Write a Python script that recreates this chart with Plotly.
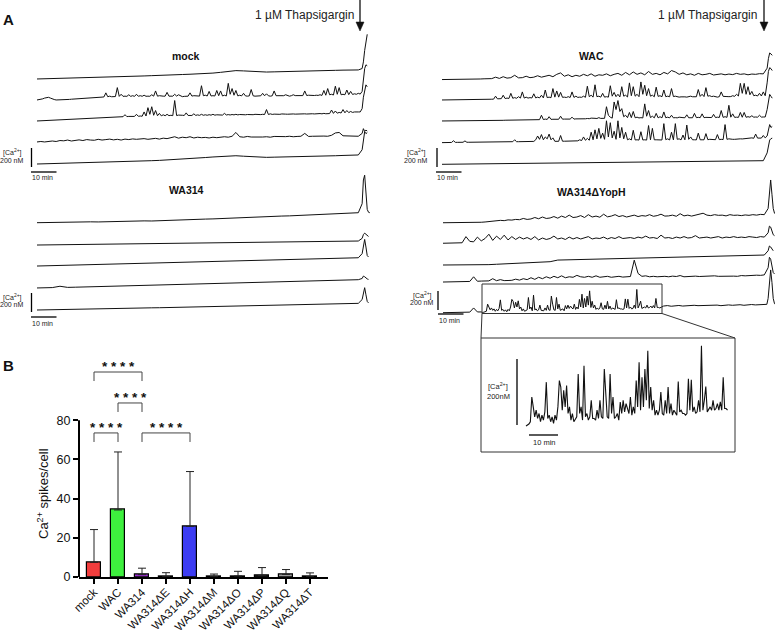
import numpy as np
import plotly.graph_objects as go

W, H = 775, 633
FONT = "Liberation Sans, Arial, sans-serif"

# ================= Panel A : calcium traces (values in nM above start) =================
T_THAPS = 127.0      # min, thapsigargin addition
TAIL_DT = 0.5        # min, sampling of the thapsigargin response
SCALE_NM = 200       # scale bar height
SCALE_MIN = 10       # scale bar length
DT_FINE, DT_FAST, DT_MID = 0.75, 1.5, 3.0

mock_1 = [0, 2, 5, 4, 8, 10, 12, 15, 17, 20, 22, 25, 27, 30, 32, 35, 40, 42, 45, 47, 50, 52, 58, 62, 70, 78,
          88, 85, 80, 78, 73, 75, 78, 80, 84, 82, 86, 88, 90, 91, 93, 94, 95]
mock_1_tail = [110, 180, 300, 420, 470]
mock_2 = [0, 2, 5, 12, 20, 25, 28, 20, 10, 5, 0, 0, 0, 1, 3, 4, 5, 6, 8, 9, 10, 11, 12, 13, 15, 15, 15, 18,
          20, 22, 25, 26, 28, 29, 30, 32, 75, 34, 40, 34,
          35, 36, 130, 38, 60, 38, 40, 38, 55, 38, 45, 38, 60, 39, 45, 39, 50, 39, 40, 39, 55, 40, 95, 40,
          45, 40, 40, 40, 80, 40, 40, 40, 60, 41, 55, 41, 35, 38, 40, 40,
          75, 41, 45, 41, 40, 41, 150, 45, 50, 42, 90, 42, 45, 42, 100, 45, 95, 42, 50, 42, 175, 60, 120, 50,
          100, 43, 50, 43, 70, 43, 40, 43, 110, 44, 40, 43, 40, 44, 70, 44,
          65, 44, 40, 44, 95, 45, 45, 45, 45, 45, 55, 45, 40, 45, 55, 46, 45, 46, 50, 46, 95, 47, 50, 47,
          45, 47, 50, 48, 55, 48, 100, 50, 120, 55, 60, 52, 145, 60, 130, 55,
          60, 55, 105, 56, 90, 58, 65, 60, 70, 62]
mock_2_tail = [90, 200, 330, 370, 360]
mock_3 = [0, 1, 3, 3, 2, 4, 6, 6, 7, 9, 11, 10, 10, 12, 15, 14, 14, 16, 19, 19, 20, 21, 23, 22, 22, 24, 27, 26,
          26, 28, 31, 30, 30, 32, 35, 34, 34, 36, 39, 39,
          40, 41, 42, 43, 44, 45, 66, 46, 48, 47, 50, 48, 70, 49, 52, 50, 95, 52, 140, 70, 150, 60, 110, 55,
          80, 54, 65, 55, 70, 56, 60, 56, 215, 57, 62, 57, 60, 58, 85, 58,
          62, 58, 75, 59, 64, 59, 70, 60, 65, 60, 66, 61, 70, 61, 65, 62, 66, 62, 80, 63, 67, 63, 68, 64,
          70, 64, 68, 65, 70, 65, 68, 66, 70, 66, 70, 67, 72, 67, 70, 68,
          120, 68, 75, 69, 72, 69, 72, 70, 74, 70, 72, 71, 74, 71, 74, 72, 74, 72, 76, 73, 75, 73, 76, 74,
          76, 74, 78, 75, 78, 75, 80, 76, 80, 78, 115, 80, 105, 82, 90, 84,
          120, 86, 110, 88, 100, 90, 95, 92, 95, 95]
mock_3_tail = [130, 250, 330, 380, 360]
mock_4 = [0, 5, 0, 8, 10, 5, 15, 12, 20, 10, 18, 22, 15, 25, 20, 18, 28, 20, 25, 30,
          22, 28, 20, 30, 25, 32, 28, 30, 35, 28, 32, 38, 30, 40, 35, 45, 55, 40, 50, 45,
          55, 42, 50, 45, 48, 42, 50, 45, 48, 55, 50, 60, 100, 55, 50, 58, 52, 50, 55, 52,
          55, 50, 58, 55, 52, 56, 60, 55, 58, 60, 90, 58, 60, 62, 58, 62, 60, 70, 95, 100,
          65, 62, 60, 62, 60]
mock_4_tail = [90, 140, 110, 125, 115]
mock_5 = [0, 2, 3, 5, 7, 8, 10, 12, 14, 16, 18, 21, 24, 28, 31, 35, 38, 42, 47, 52, 57, 63, 68, 74, 80, 85,
          87, 82, 76, 72, 70, 72, 73, 75, 77, 79, 81, 83, 85, 87, 90, 92, 95]
mock_5_tail = [150, 280, 340, 320, 330]

wac_1 = [0, 0, 2, 2, 3, 3, 5, 4, 5, 6, 6, 8, 8, 10, 25, 12, 30, 15, 20, 45,
         18, 20, 35, 20, 25, 40, 25, 35, 45, 30, 55, 70, 35, 50, 30, 45, 35, 55, 40, 60,
         35, 50, 45, 60, 40, 55, 65, 45, 75, 50, 80, 55, 70, 50, 85, 55, 65, 50, 75, 60,
         95, 80, 55, 70, 50, 60, 45, 65, 50, 55, 65, 48, 55, 60, 50, 58, 52, 65, 55, 60,
         50, 58, 55, 62, 60]
wac_1_tail = [120, 220, 280, 270, 255]
wac_2 = [0, 0, 0, 1, 2, 2, 2, 3, 3, 3, 3, 4, 4, 4, 4, 5, 5, 5, 5, 6, 6, 6, 6, 7, 7, 7, 8, 9,
         40, 12, 15, 14, 50, 15, 20, 16, 70, 18, 25, 18,
         35, 20, 85, 20, 30, 20, 25, 21, 65, 22, 30, 22, 50, 22, 105, 25, 30, 24, 120, 30,
         95, 30, 80, 28, 30, 26, 35, 26, 85, 27, 40, 27, 30, 28, 40, 28, 145, 35, 50, 30,
         160, 35, 40, 30, 70, 30, 35, 30, 150, 40, 80, 35, 60, 32, 140, 40, 50, 32, 180, 45,
         140, 40, 60, 35, 190, 60, 155, 45, 120, 40, 50, 34, 135, 38, 45, 34, 105, 35, 40, 34,
         120, 36, 40, 34, 30, 33, 35, 33, 30, 34, 40, 34, 35, 34, 110, 38, 60, 36, 130, 40,
         45, 36, 40, 35, 30, 35, 85, 38, 40, 36, 35, 36, 45, 38, 60, 42, 175, 70, 175, 60,
         140, 55, 90, 45, 50, 42, 70, 42, 85, 45]
wac_2_tail = [180, 300, 340, 330, 310]
wac_3 = [0, 0, 0, 0, 0, 1, 1, 1, 1, 2, 2, 2, 2, 3, 3, 3, 3, 4, 4, 4, 4, 5, 5, 5, 5, 6, 6, 6, 6, 7,
         7, 7, 7, 8, 8, 8, 8, 9, 9, 9, 9, 10, 10, 10, 10, 11, 11, 12, 12, 13,
         15, 14, 60, 15, 20, 16, 45, 17, 18, 18, 22, 18, 50, 19, 20, 19, 22, 20, 40, 20,
         22, 21, 25, 22, 24, 23, 26, 24, 30, 25, 28, 26, 35, 27, 30, 28, 150, 60, 40, 30,
         200, 120, 215, 100, 130, 45, 60, 35, 90, 35, 100, 34, 40, 32, 35, 32, 180, 50, 110, 36,
         50, 33, 80, 33, 45, 33, 95, 34, 40, 33, 60, 33, 35, 33, 40, 34, 35, 34, 65, 34,
         35, 34, 80, 35, 38, 35, 75, 35, 38, 36, 40, 36, 70, 36, 40, 37, 110, 38, 45, 38,
         165, 40, 75, 38, 40, 38, 90, 39, 90, 39, 45, 40, 55, 40, 42, 40, 60, 41, 42, 42]
wac_3_tail = [120, 230, 280, 260, 240]
wac_4 = [0, 0, 1, 1, 2, 2, 20, 3, 3, 3, 3, 4, 18, 4, 4, 4, 5, 5, 5, 5, 6, 6, 6, 6, 7, 7, 7, 7, 8, 8,
         8, 8, 9, 9, 9, 9, 10, 10, 30, 10,
         10, 10, 11, 11, 12, 12, 12, 12, 13, 30, 70, 35, 85, 30, 60, 40, 90, 30, 50, 14,
         14, 14, 75, 15, 15, 15, 16, 16, 18, 17, 20, 19, 30, 22, 60, 25, 45, 25, 110, 30,
         135, 40, 150, 45, 100, 35, 230, 60, 210, 50, 120, 35, 230, 50, 160, 40, 110, 30, 40, 28,
         130, 28, 30, 27, 115, 28, 30, 27, 180, 30, 150, 30, 30, 27, 30, 28, 200, 32, 40, 28,
         110, 29, 200, 35, 40, 29, 80, 30, 185, 35, 60, 30, 30, 29, 100, 30, 30, 30, 95, 31,
         35, 31, 30, 31, 85, 32, 35, 32, 190, 35, 40, 34, 35, 35, 38, 37, 40, 39, 42, 41,
         45, 44, 50, 46, 90, 48, 50, 48, 75, 50]
wac_4_tail = [70, 150, 190, 160, 170]
wac_5 = [0, 1, 3, 2, 4, 5, 6, 5, 7, 8, 9, 10, 12, 11, 13, 14, 15, 16, 18, 17, 19, 20, 22, 21, 23, 24, 25, 26,
         28, 27, 29, 30, 31, 32, 33, 32, 34, 35, 36, 35, 37, 38, 38]
wac_5_tail = [120, 210, 255, 270, 275]

wa_1 = [0, 2, 1, 4, 5, 4, 7, 9, 8, 11, 13, 12, 15, 17, 19, 18, 22, 25, 27, 30, 33, 35, 38, 40, 44, 47, 50, 54,
        58, 60, 63, 66, 70, 72, 75, 78, 82, 85, 88, 90, 94, 98, 105]
wa_1_tail = [200, 450, 500, 300, 140, 110, 105]
wa_2 = [0, 1, 3, 2, 4, 5, 4, 6, 8, 7, 9, 10, 12, 11, 13, 15, 14, 16, 18, 17, 19, 21, 20, 22, 24, 23, 25, 27,
        26, 28, 30, 29, 31, 33, 32, 34, 36, 35, 37, 39, 38, 40, 42]
wa_2_tail = [70, 110, 125, 115, 100, 90]
wa_3 = [0, 2, 4, 5, 8, 9, 12, 13, 15, 18, 19, 22, 24, 25, 28, 30, 31, 34, 36, 37, 40, 42, 43, 46, 48, 49, 52,
        54, 56, 58, 60, 62, 64, 66, 68, 70, 72, 74, 76, 79, 81, 84, 87]
wa_3_tail = [130, 230, 280, 200, 110, 95]
wa_4 = [0, 2, 4, 18, 6, 8, 10, 12, 13, 15, 17, 20, 21, 23, 25, 28, 29, 31, 34, 36, 37, 40, 42, 44, 46, 48, 50,
        53, 55, 57, 59, 61, 64, 66, 68, 70, 72, 75, 77, 80, 82, 84, 87]
wa_4_tail = [100, 125, 118, 105, 95, 90]
wa_5 = [0, 2, 3, 5, 6, 8, 9, 11, 12, 14, 15, 17, 18, 20, 21, 23, 24, 26, 27, 29, 30, 32, 33, 35, 36, 38, 39,
        41, 42, 44, 46, 47, 49, 51, 53, 55, 57, 59, 61, 63, 65, 67, 70]
wa_5_tail = [110, 190, 235, 160, 90, 75]

yoph_1 = [0, 0, 1, 1, 2, 2, 3, 3, 4, 5, 5, 8, 12, 20, 18, 25, 22, 30, 28, 35,
          32, 45, 35, 40, 55, 42, 60, 45, 50, 65, 48, 70, 55, 80, 55, 60, 75, 55, 85, 60,
          70, 58, 90, 62, 70, 85, 65, 75, 60, 70, 80, 65, 75, 70, 85, 68, 75, 90, 70, 72,
          80, 68, 95, 72, 80, 70, 78, 85, 100, 80, 75, 85, 78, 80, 72, 85, 78, 80, 75, 82,
          78, 85, 80, 88, 85]
yoph_1_tail = [150, 350, 450, 300, 150, 100, 90]
yoph_2 = [0, 2, 3, 4, 3, 5, 70, 20, 15, 65, 25, 50, 95, 30, 75, 40, 85, 35, 70, 40,
          65, 45, 60, 40, 70, 35, 55, 40, 50, 75, 45, 55, 40, 65, 45, 60, 45, 55, 70, 45,
          55, 50, 65, 45, 60, 50, 70, 50, 55, 60, 50, 65, 55, 75, 55, 60, 50, 85, 55, 60,
          50, 65, 55, 70, 55, 60, 80, 55, 60, 65, 55, 60, 70, 55, 65, 60, 70, 60, 65, 60,
          70, 65, 60, 70, 65]
yoph_2_tail = [110, 180, 170, 120, 90, 80]
yoph_3 = [0, 0, 1, 0, 1, 2, 4, 8, 12, 15, 19, 23, 27, 31, 35, 52, 54, 55, 57, 58, 60, 61, 62, 63, 65, 67, 69,
          71, 72, 74, 76, 78, 80, 83, 85, 87, 90, 93, 95, 98, 100, 102, 105]
yoph_3_tail = [150, 200, 190, 170, 150]
yoph_4 = [0, 0, 1, 2, 3, 4, 5, 6, 55, 8, 10, 12, 12, 35, 14, 25, 15, 16, 18, 30,
          20, 35, 25, 45, 28, 50, 35, 55, 40, 60, 45, 65, 45, 55, 50, 70, 55, 50, 60, 50,
          65, 50, 55, 60, 50, 55, 60, 52, 55, 58, 230, 90, 60, 65, 55, 60, 55, 58, 60, 55,
          62, 58, 68, 55, 60, 58, 62, 58, 60, 62, 58, 65, 60, 62, 58, 65, 62, 60, 68, 65,
          70, 68, 72, 70, 75]
yoph_4_tail = [150, 260, 240, 160, 100, 85]
# cell 5 of WA314dYopH: before burst, burst (shown enlarged in inset), after burst
yoph_5_pre = [0, 0, 2, 2, 3, 4, 5, 6, 50, 8, 8]
yoph_5_burst = [2, 5, 8, 15, 90, 60, 30, 50, 25, 40,
                15, 35, 20, 45, 135, 25, 35, 15, 30, 10,
                35, 20, 60, 140, 120, 50, 110, 60, 125, 40,
                60, 20, 40, 15, 25, 30, 160, 40, 60, 20,
                185, 30, 40, 20, 30, 80, 25, 25, 20, 50,
                25, 80, 30, 25, 175, 90, 30, 25, 160, 40,
                90, 25, 30, 40, 20, 75, 40, 80, 45, 70,
                50, 40, 90, 35, 60, 40, 140, 60, 195, 50,
                150, 60, 175, 80, 230, 55, 120, 50, 80, 35,
                50, 35, 50, 105, 40, 35, 80, 40, 120, 40,
                70, 35, 50, 40, 35, 137, 45, 50, 40, 40,
                35, 40, 145, 50, 142, 45, 60, 40, 45, 80,
                45, 245, 50, 80, 122, 45, 55, 60, 50, 80,
                50, 55, 70, 50, 75, 50, 150, 55, 55, 50]
yoph_5_post = [70, 75, 68, 72, 76, 70, 74, 72, 78, 74, 76, 72, 78, 75, 80, 74, 78, 82, 78, 80,
               84, 78, 82, 86, 82, 84, 86, 88]
yoph_5_tail = [150, 350, 450, 320, 150, 95, 88]

BURST_T0 = 15.5   # min, start of enlarged section


def series(vals, dt, tail, t0=0.0):
    t = t0 + dt * np.arange(len(vals))
    tt = T_THAPS + TAIL_DT * np.arange(1, len(tail) + 1)
    return np.concatenate([t, tt]), np.concatenate([np.array(vals, float), np.array(tail, float)])


E, F, M = DT_FINE, DT_FAST, DT_MID
# panels: geometry (pixel mapping) kept separate from data
panels = {
    "mock": dict(n=1, x0=37, ppm=2.55, y0=164, ppn=0.095, title="mock", tx=186, ty=56,
                 traces=[(mock_1, mock_1_tail, M), (mock_2, mock_2_tail, E), (mock_3, mock_3_tail, E),
                         (mock_4, mock_4_tail, F), (mock_5, mock_5_tail, M)],
                 offsets=[895, 674, 453, 232, 0],
                 vbar=(31.5, 167), hbar=(31, 172), lab=(12, 153, 160), minlab=(42, 177)),
    "WAC": dict(n=2, x0=442, ppm=2.55, y0=164.3, ppn=0.095, title="WAC", tx=591, ty=56,
                traces=[(wac_1, wac_1_tail, F), (wac_2, wac_2_tail, E), (wac_3, wac_3_tail, E),
                        (wac_4, wac_4_tail, E), (wac_5, wac_5_tail, M)],
                offsets=[892, 677, 456, 228, 0],
                vbar=(437, 167), hbar=(436, 172), lab=(416, 152, 160), minlab=(447, 178)),
    "WA314": dict(n=3, x0=37, ppm=2.55, y0=310, ppn=0.095, title="WA314", tx=186, ty=190,
                  traces=[(wa_1, wa_1_tail, M), (wa_2, wa_2_tail, M), (wa_3, wa_3_tail, M),
                          (wa_4, wa_4_tail, M), (wa_5, wa_5_tail, M)],
                  offsets=[919, 684, 463, 232, 0],
                  vbar=(31.5, 312), hbar=(31, 317), lab=(12, 297, 304), minlab=(42, 323)),
    "YopH": dict(n=4, x0=443, ppm=2.55, y0=312.7, ppn=0.095, title="WA314ΔYopH", tx=591, ty=192,
                 traces=[(yoph_1, yoph_1_tail, F), (yoph_2, yoph_2_tail, F), (yoph_3, yoph_3_tail, M),
                         (yoph_4, yoph_4_tail, F)],
                 offsets=[947, 731, 502, 323, 0],
                 vbar=(438, 310), hbar=(438, 314), lab=(422, 295, 303), minlab=(449, 320)),
}
inset = dict(n=5, x0=526, ppm=2.9, y0=426.7, ppn=0.33)

# ================= Panel B : bar chart =================
groups = ["mock", "WAC", "WA314", "WA314ΔE", "WA314ΔH", "WA314ΔM",
          "WA314ΔO", "WA314ΔP", "WA314ΔQ", "WA314ΔT"]
spikes_mean = [7.5, 34.2, 1.2, 0.3, 25.8, 0.2, 0.5, 0.8, 1.3, 0.3]
spikes_sd = [16.7, 29.6, 3.3, 1.9, 28.0, 1.3, 2.4, 4.0, 2.5, 1.8]
bar_colors = ["#f23d3d", "#3ef03e", "#9b30d0", "#d8d8d8", "#3c3cf2", "#e0e0e0",
              "#bdbdbd", "#222222", "#9a9a9a", "#d0d0d0"]
sig_pairs = [(0, 2), (1, 2), (0, 1), (2, 4)]
sig_levels = [104.6, 88.8, 73.5, 73.5]
sig_label = "* * * *"

fig = go.Figure()
shapes, annos = [], []


def px(x, y):
    return x / W, 1 - y / H


def axname(n):
    return ("x" if n == 1 else f"x{n}"), ("y" if n == 1 else f"y{n}")


def add_axes(n, g):
    xr = [(0 - g["x0"]) / g["ppm"], (W - g["x0"]) / g["ppm"]]
    yr = [(g["y0"] - H) / g["ppn"], g["y0"] / g["ppn"]]
    xk = "xaxis" if n == 1 else f"xaxis{n}"
    yk = "yaxis" if n == 1 else f"yaxis{n}"
    xa, ya = axname(n)
    fig.layout[xk] = dict(domain=[0, 1], range=xr, visible=False, anchor=ya, fixedrange=True,
                          automargin=False)
    fig.layout[yk] = dict(domain=[0, 1], range=yr, visible=False, anchor=xa, fixedrange=True,
                          automargin=False)


def to_data(g, xp, yp):
    return (xp - g["x0"]) / g["ppm"], (g["y0"] - yp) / g["ppn"]


def scale_bar(g, n, vbar, hbar, fs, lab, minlab, nm_text):
    xa, ya = axname(n)
    vx, vy = to_data(g, vbar[0], vbar[1])
    shapes.append(dict(type="line", xref=xa, yref=ya, x0=vx, x1=vx, y0=vy, y1=vy + SCALE_NM,
                       line=dict(color="black", width=1.3)))
    hx, hy = to_data(g, hbar[0], hbar[1])
    shapes.append(dict(type="line", xref=xa, yref=ya, x0=hx, x1=hx + SCALE_MIN, y0=hy, y1=hy,
                       line=dict(color="black", width=1.3)))
    for txt, yy in (("[Ca<sup>2+</sup>]", lab[1]), (nm_text, lab[2])):
        ax_, ay_ = px(lab[0], yy)
        annos.append(dict(x=ax_, y=ay_, xref="paper", yref="paper", text=txt, showarrow=False,
                          font=dict(size=fs, family=FONT, color="#222"), xanchor="center", yanchor="middle"))
    ax_, ay_ = px(*minlab)
    annos.append(dict(x=ax_, y=ay_, xref="paper", yref="paper", text=f"{SCALE_MIN} min", showarrow=False,
                      font=dict(size=fs, family=FONT, color="#222"), xanchor="center", yanchor="middle"))


for key, g in panels.items():
    n = g["n"]
    add_axes(n, g)
    xa, ya = axname(n)
    for (vals, tail, dt), off in zip(g["traces"], g["offsets"]):
        t, v = series(vals, dt, tail)
        fig.add_trace(go.Scatter(x=t, y=v + off, mode="lines", line=dict(color="#111", width=1),
                                 xaxis=xa, yaxis=ya, hoverinfo="skip", showlegend=False))
    tx, ty = px(g["tx"], g["ty"])
    annos.append(dict(x=tx, y=ty, xref="paper", yref="paper", text=f"<b>{g['title']}</b>", showarrow=False,
                      font=dict(size=10.5, family=FONT, color="#111"), xanchor="center", yanchor="middle"))
    scale_bar(g, n, g["vbar"], g["hbar"], 7, g["lab"], g["minlab"], f"{SCALE_NM} nM")

# fifth WA314dYopH cell (with burst)
g = panels["YopH"]
t_pre = DT_FAST * np.arange(len(yoph_5_pre))
t_burst = BURST_T0 + TAIL_DT * np.arange(len(yoph_5_burst))
t_post = t_burst[-1] + DT_FAST + DT_FAST * np.arange(len(yoph_5_post))
t_tail = T_THAPS + TAIL_DT * np.arange(1, len(yoph_5_tail) + 1)
t5 = np.concatenate([t_pre, t_burst, t_post, t_tail])
v5 = np.concatenate([yoph_5_pre, yoph_5_burst, yoph_5_post, yoph_5_tail]).astype(float)
fig.add_trace(go.Scatter(x=t5, y=v5 + g["offsets"][4], mode="lines", line=dict(color="#111", width=1),
                         xaxis="x4", yaxis="y4", hoverinfo="skip", showlegend=False))
# box around burst
bx0, by0 = to_data(g, 482, 313.5)
bx1, by1 = to_data(g, 662, 284)
shapes.append(dict(type="rect", xref="x4", yref="y4", x0=bx0, x1=bx1, y0=by0, y1=by1,
                   line=dict(color="#333", width=1)))

# inset
add_axes(5, inset)
fig.add_trace(go.Scatter(x=t_burst - BURST_T0, y=np.array(yoph_5_burst, float), mode="lines",
                         line=dict(color="#111", width=1.1), xaxis="x5", yaxis="y5",
                         hoverinfo="skip", showlegend=False))
scale_bar(inset, 5, (517, 425), (529, 435), 7.5, (498, 386, 396), (544, 442), f"{SCALE_NM}nM")
# inset frame and connectors
(ix0, iy0), (ix1, iy1) = px(481, 338), px(735, 452)
shapes.append(dict(type="rect", xref="paper", yref="paper", x0=ix0, x1=ix1, y0=iy1, y1=iy0,
                   line=dict(color="#333", width=1)))
for (a, b) in (((482, 313.5), (481, 338)), ((662, 313.5), (735, 338))):
    (xa0, ya0), (xa1, ya1) = px(*a), px(*b)
    shapes.append(dict(type="line", xref="paper", yref="paper", x0=xa0, y0=ya0, x1=xa1, y1=ya1,
                       line=dict(color="#333", width=1)))

# thapsigargin arrows (drawn as shapes) + labels
for xarrow, xtext in ((360, 304), (764, 707)):
    (lx0, ly0), (lx1, ly1) = px(xarrow, 0), px(xarrow, 25)
    shapes.append(dict(type="line", xref="paper", yref="paper", x0=lx0, y0=ly0, x1=lx1, y1=ly1,
                       line=dict(color="#111", width=1.3)))
    p1, p2, p3 = px(xarrow - 4, 22), px(xarrow + 4, 22), px(xarrow, 31)
    shapes.append(dict(type="path", xref="paper", yref="paper",
                       path=f"M {p1[0]},{p1[1]} L {p2[0]},{p2[1]} L {p3[0]},{p3[1]} Z",
                       fillcolor="#111", line=dict(color="#111", width=0.5)))
    tx, ty = px(xtext, 15)
    annos.append(dict(x=tx, y=ty, xref="paper", yref="paper", text="1 µM Thapsigargin", showarrow=False,
                      font=dict(size=12, family=FONT, color="#222"), xanchor="center", yanchor="middle"))

# panel letters
for letter, (lx, ly) in (("A", (8, 20)), ("B", (8, 365))):
    tx, ty = px(lx, ly)
    annos.append(dict(x=tx, y=ty, xref="paper", yref="paper", text=f"<b>{letter}</b>", showarrow=False,
                      font=dict(size=15, family=FONT, color="#111"), xanchor="center", yanchor="middle"))

# ---------------- bar chart ----------------
xs = list(range(len(groups)))
fig.add_trace(go.Bar(x=xs, y=spikes_mean, width=0.62,
                     marker=dict(color=bar_colors, line=dict(color="black", width=1.2)),
                     error_y=dict(type="data", array=spikes_sd, arrayminus=[0] * len(xs), symmetric=False,
                                  color="#222", thickness=1, width=4),
                     xaxis="x6", yaxis="y6", hoverinfo="skip", showlegend=False))
fig.layout["xaxis6"] = dict(domain=[79 / W, 328 / W], range=[-0.625, 9.75], anchor="y6",
                            tickmode="array", tickvals=xs, ticktext=groups, tickangle=-45,
                            ticks="outside", ticklen=5, tickwidth=1.5, tickcolor="black",
                            ticklabelstandoff=-3,
                            showline=True, linewidth=2, linecolor="black", showgrid=False,
                            zeroline=False, tickfont=dict(size=11.5, family=FONT, color="#111"),
                            fixedrange=True, automargin=False)
fig.layout["yaxis6"] = dict(domain=[1 - 577 / H, 1 - 357.5 / H], range=[0, 112], anchor="x6",
                            tickmode="array", tickvals=[0, 20, 40, 60, 80],
                            ticks="outside", ticklen=5, tickwidth=2, tickcolor="black",
                            showline=False, showgrid=False, zeroline=False,
                            tickfont=dict(size=12.5, family=FONT, color="#111"), fixedrange=True,
                            automargin=False)
shapes.append(dict(type="line", xref="x6 domain", yref="y6", x0=0, x1=0, y0=0, y1=80,
                   line=dict(color="black", width=2)))
tx, ty = px(43, 494)
annos.append(dict(x=tx, y=ty, xref="paper", yref="paper", text="Ca<sup>2+</sup> spikes/cell", textangle=-90,
                  showarrow=False, font=dict(size=13, family=FONT, color="#111"),
                  xanchor="center", yanchor="middle"))
for (a, b), lev in zip(sig_pairs, sig_levels):
    shapes.append(dict(type="path", xref="x6", yref="y6",
                       path=f"M {a},{lev - 4.6} L {a},{lev} L {b},{lev} L {b},{lev - 4.6}",
                       line=dict(color="#444", width=1)))
    annos.append(dict(x=(a + b) / 2, y=lev + 2.7, xref="x6", yref="y6", text=f"<b>{sig_label}</b>",
                      showarrow=False, font=dict(size=13.5, family=FONT, color="#111"),
                      xanchor="center", yanchor="middle"))

fig.update_layout(width=W, height=H, margin=dict(l=0, r=0, t=0, b=0, pad=0, autoexpand=False),
                  paper_bgcolor="white", plot_bgcolor="rgba(0,0,0,0)", shapes=shapes, annotations=annos,
                  showlegend=False, font=dict(family=FONT), bargap=0)
fig.write_html("out.html", config={"displayModeBar": False})
